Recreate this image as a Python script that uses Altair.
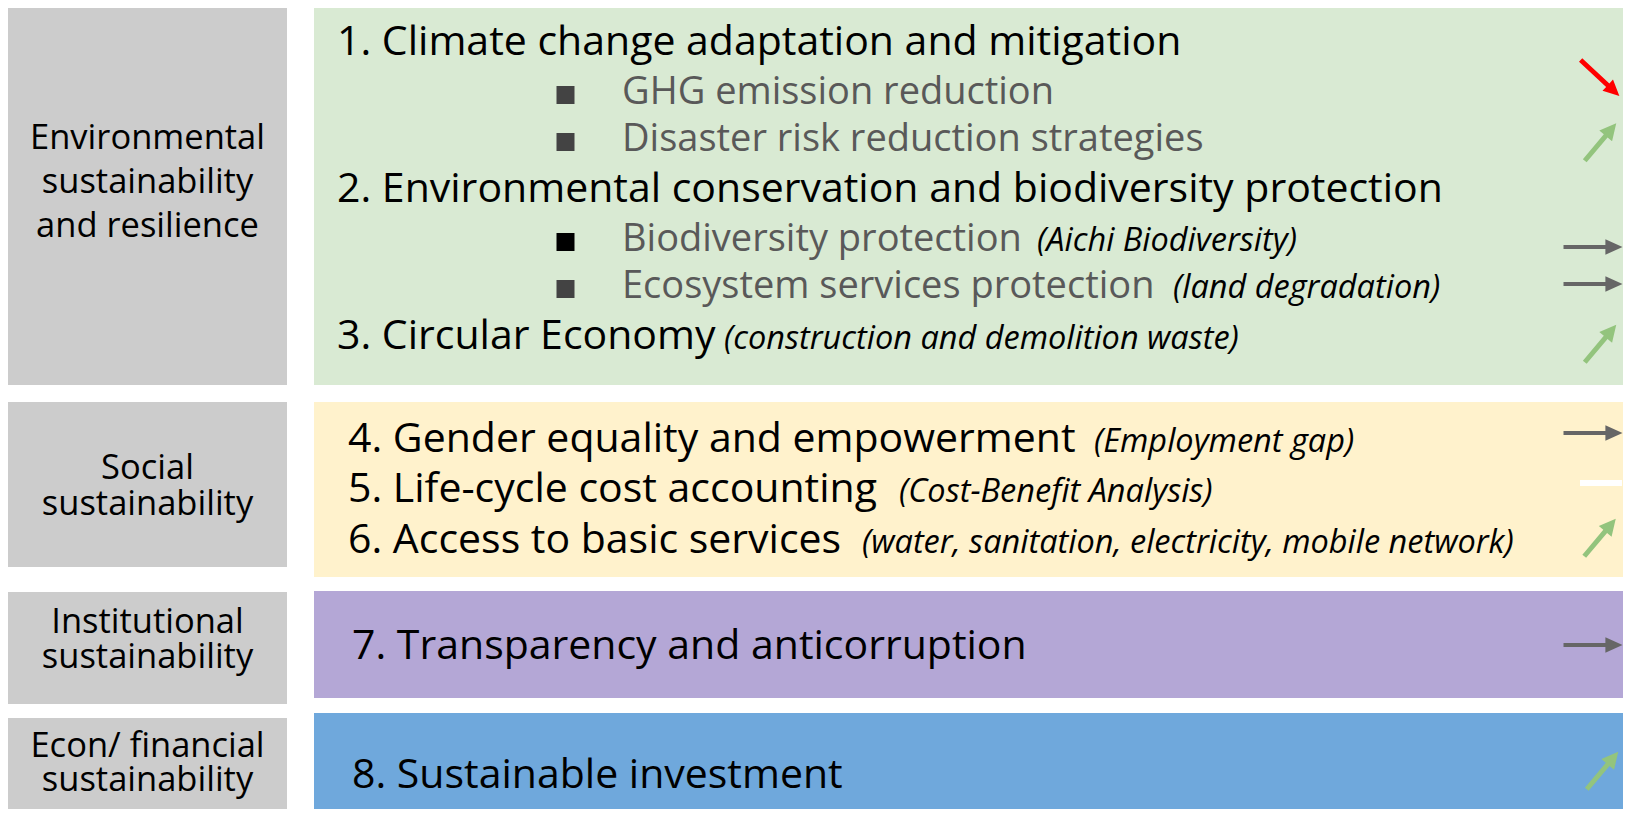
import altair as alt
import pandas as pd

# ---------------- data ----------------
pillar_lines = [
    ["Environmental", "sustainability", "and resilience"],
    ["Social", "sustainability"],
    ["Institutional", "sustainability"],
    ["Econ/ financial", "sustainability"],
]
topic_fills = ["#d9ead3", "#fff2cc", "#b4a7d6", "#6fa8dc"]
pillar_fill = "#cccccc"

headings = [
    "1. Climate change adaptation and mitigation",
    "2. Environmental conservation and biodiversity protection",
    "3. Circular Economy",
    "4. Gender equality and empowerment",
    "5. Life-cycle cost accounting",
    "6. Access to basic services",
    "7. Transparency and anticorruption",
    "8. Sustainable investment",
]
subitems = [
    "GHG emission reduction",
    "Disaster risk reduction strategies",
    "Biodiversity protection",
    "Ecosystem services protection",
]
bullet_colors = ["#434343", "#434343", "#000000", "#434343"]
notes = [
    "(Aichi Biodiversity)",
    "(land degradation)",
    "(construction and demolition waste)",
    "(Employment gap)",
    "(Cost-Benefit Analysis)",
    "(water, sanitation, electricity, mobile network)",
]
trend_rows = ["GHG", "Disaster", "Biodiversity", "Ecosystem", "Circular",
              "Gender", "LCC", "Access", "Transparency", "Investment"]
trends = ["down", "up", "flat", "flat", "up", "flat", "none", "up", "flat", "up"]

# ---------------- layout (page pixels) ----------------
W, H = 1615, 801
OX, OY = 8, 8
pillar_x = (8, 287)
topic_x = (314, 1640)
pillar_y = [(6, 385), (402, 567), (592, 704), (718, 830)]
topic_y = [(6, 385), (402, 577), (591, 698), (713, 830)]
pillar_base = [[149, 193, 237], [479, 515], [633, 668], [757, 791]]
heading_pos = [(337, 55), (337, 202), (337, 349), (348, 452), (348, 502),
               (348, 553), (352, 659), (352, 788)]
sub_pos = [(622, 104), (622, 151), (622, 251), (622, 298)]
bullet_x = 565.5
note_pos = [(1037, 251), (1173, 298), (724, 349), (1094, 452), (899, 502), (862, 553)]
trend_pos = [(1600, 78), (1600.5, 142), (1593, 247), (1593, 284),
             (1600.5, 343.5), (1593, 433), (1601, 483), (1600, 537.5),
             (1593, 645), (1602.5, 770.5)]

trend_style = {
    "up": dict(color="#93c47d", angle=40, size=49 ** 2,
               path="M0,-1L0.34,-0.33L0.1,-0.33L0.1,1L-0.1,1L-0.1,-0.33L-0.34,-0.33Z"),
    "down": dict(color="#ff0000", angle=133, size=53 ** 2,
                 path="M0,-1L0.29,-0.4L0.09,-0.4L0.09,1L-0.09,1L-0.09,-0.4L-0.29,-0.4Z"),
    "flat": dict(color="#666666", angle=90, size=59 ** 2,
                 path="M0,-1L0.26,-0.42L0.07,-0.42L0.07,1L-0.07,1L-0.07,-0.42L-0.26,-0.42Z"),
}

def cx(v):
    return v - OX

def cy(v):
    return v - OY

# ---------------- tables ----------------
rects = []
for a, b in pillar_y:
    rects.append(dict(x=cx(pillar_x[0]), x2=cx(pillar_x[1]), y=cy(a), y2=cy(b), fill=pillar_fill))
for i, (a, b) in enumerate(topic_y):
    rects.append(dict(x=cx(topic_x[0]), x2=cx(topic_x[1]), y=cy(a), y2=cy(b), fill=topic_fills[i]))
rects = pd.DataFrame(rects)

plab = []
for lines, bases in zip(pillar_lines, pillar_base):
    for t, b in zip(lines, bases):
        plab.append(dict(t=t, x=cx((pillar_x[0] + pillar_x[1]) / 2), y=cy(b)))
plab = pd.DataFrame(plab)

head_df = pd.DataFrame([dict(t=t, x=cx(p[0]), y=cy(p[1])) for t, p in zip(headings, heading_pos)])
sub_df = pd.DataFrame([dict(t=t, x=cx(p[0]), y=cy(p[1])) for t, p in zip(subitems, sub_pos)])
bul_df = pd.DataFrame([dict(x=cx(bullet_x), y=cy(p[1] - 9), c=c) for p, c in zip(sub_pos, bullet_colors)])
note_df = pd.DataFrame([dict(t=t, x=cx(p[0]), y=cy(p[1])) for t, p in zip(notes, note_pos)])

arr = []
dash = []
for r, tr, p in zip(trend_rows, trends, trend_pos):
    if tr == "none":
        dash.append(dict(row=r, x=cx(p[0] - 21), x2=cx(p[0] + 21), y=cy(p[1])))
    else:
        s = trend_style[tr]
        arr.append(dict(row=r, trend=tr, x=cx(p[0]), y=cy(p[1]), ang=s["angle"], sz=s["size"]))
arr = pd.DataFrame(arr)
dash = pd.DataFrame(dash)

xs = alt.Scale(domain=[0, W], nice=False, zero=False)
ys = alt.Scale(domain=[0, H], nice=False, zero=False, reverse=True)
X = lambda f="x": alt.X(f"{f}:Q", scale=xs, axis=None)
Y = lambda f="y": alt.Y(f"{f}:Q", scale=ys, axis=None)

FONT = "Open Sans"

rect_layer = alt.Chart(rects).mark_rect(clip=True).encode(
    x=X(), x2="x2:Q", y=Y(), y2="y2:Q", color=alt.Color("fill:N", scale=None))

plab_layer = alt.Chart(plab).mark_text(
    align="center", baseline="alphabetic", font=FONT, fontSize=34.5, color="#000000"
).encode(x=X(), y=Y(), text="t:N")

head_layer = alt.Chart(head_df).mark_text(
    align="left", baseline="alphabetic", font=FONT, fontSize=41, color="#000000"
).encode(x=X(), y=Y(), text="t:N")

sub_layer = alt.Chart(sub_df).mark_text(
    align="left", baseline="alphabetic", font=FONT, fontSize=38, color="#595959"
).encode(x=X(), y=Y(), text="t:N")

bul_layer = alt.Chart(bul_df).mark_point(
    shape="square", filled=True, size=18 * 18, opacity=1, strokeWidth=0
).encode(x=X(), y=Y(), color=alt.Color("c:N", scale=None))

note_layer = alt.Chart(note_df).mark_text(
    align="left", baseline="alphabetic", font=FONT, fontSize=32.5, fontStyle="italic", color="#000000"
).encode(x=X(), y=Y(), text="t:N")

kinds = ["up", "down", "flat"]
arrow_layer = alt.Chart(arr).mark_point(filled=True, opacity=1, strokeWidth=0).encode(
    x=X(), y=Y(),
    shape=alt.Shape("trend:N", scale=alt.Scale(domain=kinds, range=[trend_style[k]["path"] for k in kinds]), legend=None),
    color=alt.Color("trend:N", scale=alt.Scale(domain=kinds, range=[trend_style[k]["color"] for k in kinds]), legend=None),
    angle=alt.Angle("ang:Q", scale=None),
    size=alt.Size("sz:Q", scale=None),
)

dash_layer = alt.Chart(dash).mark_rule(color="#ffffff", strokeWidth=6).encode(
    x=X(), x2="x2:Q", y=Y())

chart = alt.layer(
    rect_layer, plab_layer, head_layer, sub_layer, bul_layer, note_layer, arrow_layer, dash_layer
).properties(width=W, height=H, padding=0, autosize=alt.AutoSizeParams(type="none")
).configure_view(stroke=None).resolve_scale(color="independent", shape="independent")

chart.save("out.html", embed_options={"renderer": "svg", "actions": False})
